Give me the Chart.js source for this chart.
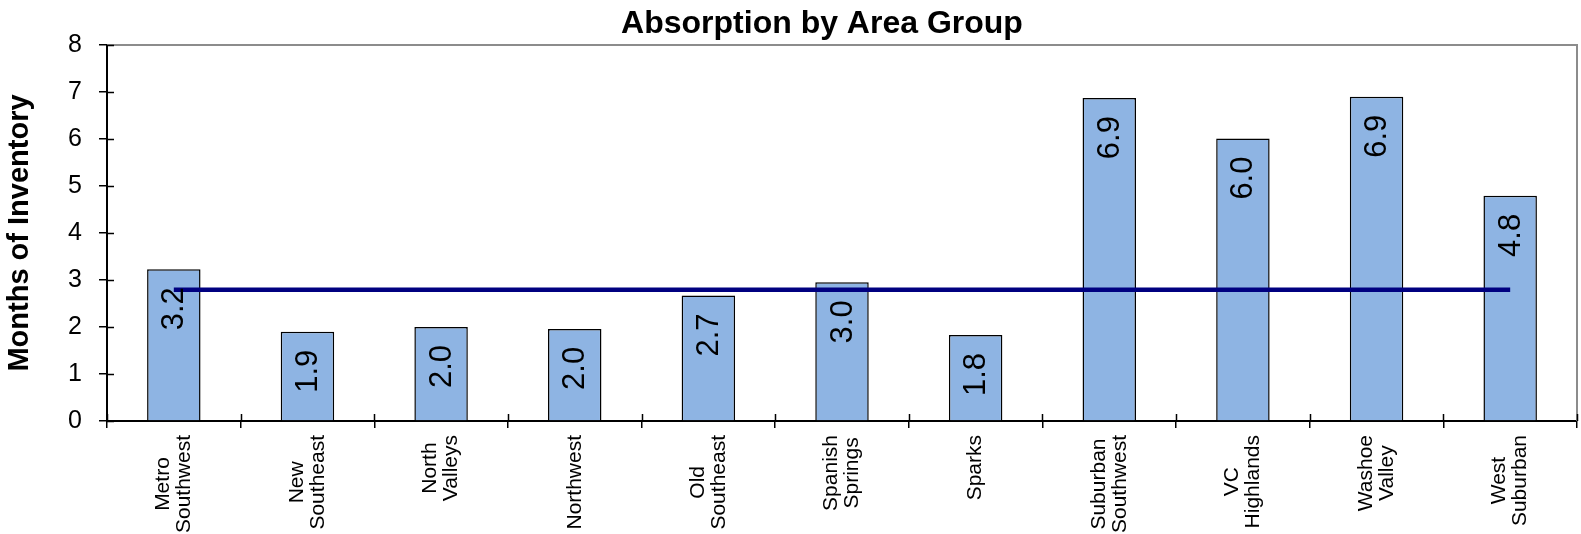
<!DOCTYPE html>
<html>
<head>
<meta charset="utf-8">
<script src="https://cdn.jsdelivr.net/npm/chart.js@4"></script>
<style>
  body { margin: 0; background: #fff; }
</style>
</head>
<body>
<canvas id="myChart" width="1581" height="534"></canvas>
<script>
const ctx = document.getElementById('myChart');

const areas = [
    ['Metro', 'Southwest'], ['New', 'Southeast'], ['North', 'Valleys'], ['Northwest'],
    ['Old', 'Southeast'], ['Spanish', 'Springs'], ['Sparks'], ['Suburban', 'Southwest'],
    ['VC', 'Highlands'], ['Washoe', 'Valley'], ['West', 'Suburban']
]
const meses = [3.23, 1.90, 2.00, 1.96, 2.67, 2.95, 1.83, 6.87, 6.01, 6.90, 4.79]
const rotulos = ['3.2', '1.9', '2.0', '2.0', '2.7', '3.0', '1.8', '6.9', '6.0', '6.9', '4.8']
const media = [2.79, 2.79, 2.79, 2.79, 2.79, 2.79, 2.79, 2.79, 2.79, 2.79, 2.79]
const yTicks = [0, 1, 2, 3, 4, 5, 6, 7, 8]

const fonte = '"Liberation Sans", Arial, sans-serif'

// titulo, moldura, tracinhos, rotulos das barras e das categorias
const extras = {
    id: 'extras',
    afterDatasetsDraw(chart) {
        const c = chart.ctx
        const x = chart.scales.x
        const y = chart.scales.y
        c.save()

        // rotulos dentro das barras
        c.fillStyle = '#000'
        c.font = '31px ' + fonte
        c.textAlign = 'right'
        c.textBaseline = 'middle'
        meses.forEach((v, i) => {
            c.save()
            c.translate(x.getPixelForValue(i) + 1, y.getPixelForValue(v) + 18)
            c.rotate(-Math.PI / 2)
            c.fillText(rotulos[i], 0, 0)
            c.restore()
        })
        c.restore()
    },
    afterDraw(chart) {
        const c = chart.ctx
        const area = chart.chartArea
        const x = chart.scales.x
        const y = chart.scales.y
        c.save()

        // moldura cinza em cima e a direita
        c.strokeStyle = '#8c8c8c'
        c.lineWidth = 2
        c.beginPath()
        c.moveTo(area.left, area.top)
        c.lineTo(area.right, area.top)
        c.lineTo(area.right, area.bottom)
        c.stroke()

        // parte interna dos tracinhos
        c.strokeStyle = '#000'
        c.lineWidth = 1.5
        c.beginPath()
        yTicks.forEach((t) => {
            const py = Math.round(y.getPixelForValue(t)) + 0.5
            c.moveTo(area.left, py)
            c.lineTo(area.left + 7, py)
        })
        const w = x.getPixelForValue(1) - x.getPixelForValue(0)
        for (let i = 0; i <= areas.length; i++) {
            const px = Math.round(x.getPixelForValue(0) - w / 2 + i * w) + 0.5
            c.moveTo(px, area.bottom)
            c.lineTo(px, area.bottom - 7)
        }
        c.stroke()

        // categorias giradas, linhas centralizadas
        c.fillStyle = '#000'
        c.font = '21px ' + fonte
        c.textAlign = 'center'
        c.textBaseline = 'middle'
        areas.forEach((linhas, i) => {
            const larg = Math.max(...linhas.map((l) => c.measureText(l).width))
            c.save()
            c.translate(x.getPixelForValue(i), area.bottom + 14 + larg / 2)
            c.rotate(-Math.PI / 2)
            linhas.forEach((l, j) => {
                c.fillText(l, 0, (j - (linhas.length - 1) / 2) * 21)
            })
            c.restore()
        })

        // titulo
        c.font = 'bold 32px ' + fonte
        c.textAlign = 'center'
        c.textBaseline = 'alphabetic'
        c.fillText('Absorption by Area Group', 822, 33)
        c.restore()
    }
}

new Chart(ctx, {
    data: {
        labels: areas,
        datasets: [{
            type: 'line',
            label: 'Average',
            data: media,
            borderColor: '#000080',
            borderWidth: 4.5,
            pointRadius: 0,
            fill: false,
            order: 1
        }, {
            type: 'bar',
            label: 'Months of Inventory',
            data: meses,
            backgroundColor: '#8eb4e3',
            borderColor: '#000',
            borderWidth: 1.5,
            barPercentage: 0.4,
            categoryPercentage: 1,
            order: 2
        }]
    },
    options: {
        responsive: false,
        animation: false,
        layout: {
            padding: { top: 45, right: 4, left: 0, bottom: 0 }
        },
        plugins: {
            legend: { display: false },
            title: { display: false },
            tooltip: { enabled: false }
        },
        scales: {
            x: {
                offset: true,
                grid: {
                    offset: true,
                    drawOnChartArea: false,
                    tickLength: 7,
                    color: '#000',
                    lineWidth: 1.5
                },
                border: { color: '#000', width: 2 },
                ticks: { display: false },
                afterFit(scale) { scale.height = 113 }
            },
            y: {
                min: 0,
                max: 8,
                afterBuildTicks(scale) {
                    scale.ticks = yTicks.map((v) => ({ value: v }))
                },
                grid: {
                    drawOnChartArea: false,
                    tickLength: 8,
                    color: '#000',
                    lineWidth: 1.5
                },
                border: { color: '#000', width: 2 },
                ticks: {
                    color: '#000',
                    padding: 17,
                    font: { family: fonte, size: 25 }
                },
                title: {
                    display: true,
                    text: 'Months of Inventory',
                    color: '#000',
                    font: { family: fonte, size: 29, weight: 'bold' },
                    padding: { top: 3, bottom: 0 }
                },
                afterFit(scale) { scale.width = 107 }
            }
        }
    },
    plugins: [extras]
});
</script>
</body>
</html>
